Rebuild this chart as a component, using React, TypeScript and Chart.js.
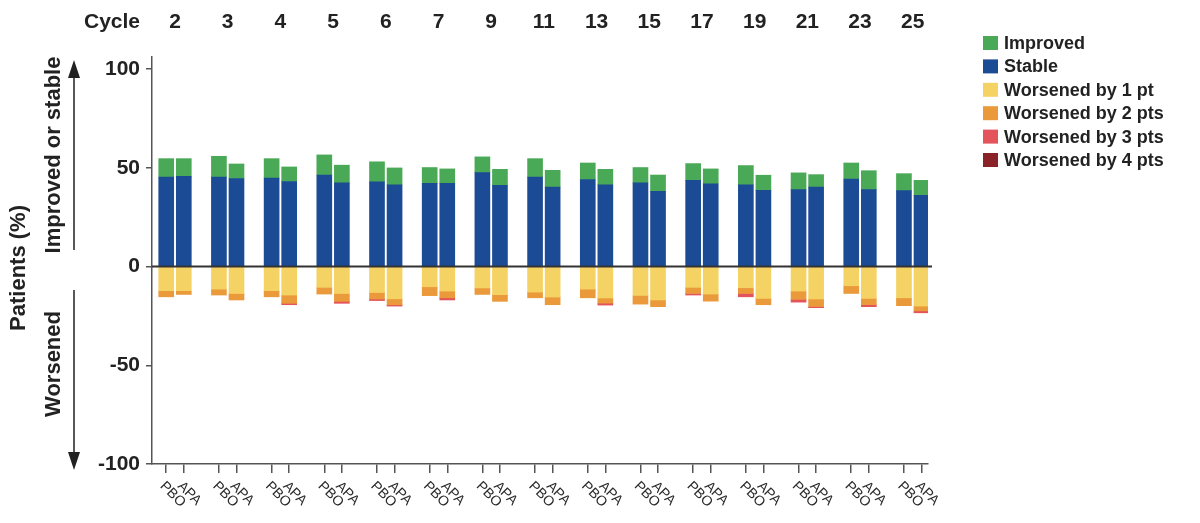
import React, { useEffect, useRef } from 'react';
import { Chart, registerables } from 'chart.js';

Chart.register(...registerables);

const cycles = ['2', '3', '4', '5', '6', '7', '9', '11', '13', '15', '17', '19', '21', '23', '25'];
const arms = ['PBO', 'APA'];
const yTicks = [-100, -50, 0, 50, 100];

// values per bar, order: cycle 2 PBO, cycle 2 APA, cycle 3 PBO, ...
const stable = [45.4, 45.8, 45.4, 44.6, 44.9, 43.1, 46.4, 42.4, 42.9, 41.5, 42.2, 42.2, 47.6, 41.2, 45.4, 40.3, 44.1, 41.4, 42.4, 38.1, 43.7, 42.0, 41.4, 38.6, 39.0, 40.3, 44.4, 39.0, 38.5, 36.1];
const improved = [9.3, 8.9, 10.5, 7.4, 9.8, 7.4, 10.2, 9.0, 10.2, 8.5, 8.0, 7.3, 8.0, 8.1, 9.3, 8.5, 8.4, 7.9, 7.8, 8.3, 8.5, 7.5, 9.8, 7.7, 8.5, 6.3, 8.1, 9.6, 8.6, 7.6];
const worse1 = [12.2, 12.2, 11.4, 13.6, 12.2, 14.4, 10.5, 13.6, 13.1, 16.3, 10.2, 12.4, 10.8, 14.2, 12.9, 15.4, 11.4, 15.9, 14.6, 16.9, 10.5, 13.9, 10.7, 16.1, 12.4, 16.4, 9.7, 16.1, 15.8, 20.0];
const worse2 = [3.1, 1.9, 3.0, 3.3, 3.1, 4.2, 3.4, 4.0, 3.3, 3.0, 4.5, 3.4, 3.3, 3.4, 2.9, 3.9, 4.4, 2.6, 4.4, 3.4, 3.1, 3.6, 2.9, 3.2, 4.2, 3.8, 3.9, 3.2, 4.0, 2.4];
const worse3 = [0, 0, 0, 0, 0, 0.7, 0, 1.0, 0.8, 0.7, 0, 1.1, 0, 0, 0, 0, 0, 1.0, 0, 0, 0.8, 0, 1.7, 0, 1.4, 0.6, 0, 1.0, 0, 1.0];
const worse4 = [0, 0, 0, 0, 0, 0, 0, 0, 0, 0, 0, 0, 0, 0, 0, 0, 0, 0, 0, 0, 0, 0, 0, 0, 0, 0, 0, 0, 0, 0];

const seriesNames = ['Improved', 'Stable', 'Worsened by 1 pt', 'Worsened by 2 pts', 'Worsened by 3 pts', 'Worsened by 4 pts'];
const seriesColors = ['#49a956', '#1c4b96', '#f5d264', '#ea9a3a', '#e3545b', '#8b2228'];

const FONT = "'Liberation Sans', Arial, Helvetica, sans-serif";

// bar position on the x scale: 3 slots per cycle (PBO, APA, gap)
const xPos = (barIndex: number) => Math.floor(barIndex / 2) * 3 + (barIndex % 2);

const toPoints = (vals: number[], sign: number) =>
  vals.map((v, i) => ({ x: xPos(i), y: v === 0 ? null : sign * v }));

const overlay = {
  id: 'overlay',
  afterDatasetsDraw(chart: any) {
    const { ctx, chartArea, scales } = chart;
    const ys = scales.y;
    const y0 = ys.getPixelForValue(0);
    ctx.save();
    ctx.strokeStyle = '#333';
    ctx.lineWidth = 2;
    ctx.beginPath();
    ctx.moveTo(chartArea.left, y0);
    ctx.lineTo(chartArea.right + 4, y0);
    ctx.stroke();
    ctx.restore();
  },
  afterDraw(chart: any) {
    const { ctx, chartArea, scales } = chart;
    const xs = scales.x;
    ctx.save();
    ctx.fillStyle = '#222';
    // header
    ctx.font = `bold 21px ${FONT}`;
    ctx.textBaseline = 'middle';
    ctx.textAlign = 'right';
    ctx.fillText('Cycle', 140, 22);
    ctx.textAlign = 'center';
    cycles.forEach((c, i) => {
      const px = (xs.getPixelForValue(i * 3) + xs.getPixelForValue(i * 3 + 1)) / 2;
      ctx.fillText(c, px, 22);
    });
    // x labels rotated
    ctx.font = `14px ${FONT}`;
    ctx.textAlign = 'left';
    ctx.fillStyle = '#2a2a2a';
    for (let i = 0; i < cycles.length * 2; i++) {
      const px = xs.getPixelForValue(xPos(i));
      ctx.save();
      ctx.translate(px - 4, chartArea.bottom + 20);
      ctx.rotate(Math.PI / 4);
      ctx.fillText(arms[i % 2], 0, 0);
      ctx.restore();
    }
    // y titles
    ctx.fillStyle = '#222';
    ctx.font = `bold 22px ${FONT}`;
    ctx.textAlign = 'center';
    const rot = (t: string, x: number, y: number) => {
      ctx.save();
      ctx.translate(x, y);
      ctx.rotate(-Math.PI / 2);
      ctx.fillText(t, 0, 0);
      ctx.restore();
    };
    rot('Patients (%)', 19, 268);
    rot('Improved or stable', 54, 155);
    rot('Worsened', 54, 364);
    // arrows
    ctx.strokeStyle = '#222';
    ctx.lineWidth = 1.5;
    const ax = 74;
    ctx.beginPath();
    ctx.moveTo(ax, 250);
    ctx.lineTo(ax, 76);
    ctx.moveTo(ax, 290);
    ctx.lineTo(ax, 455);
    ctx.stroke();
    ctx.beginPath();
    ctx.moveTo(ax, 60);
    ctx.lineTo(ax - 6, 78);
    ctx.lineTo(ax + 6, 78);
    ctx.closePath();
    ctx.fill();
    ctx.beginPath();
    ctx.moveTo(ax, 470);
    ctx.lineTo(ax - 6, 452);
    ctx.lineTo(ax + 6, 452);
    ctx.closePath();
    ctx.fill();
    // legend
    ctx.font = `bold 18px ${FONT}`;
    ctx.textAlign = 'left';
    ctx.textBaseline = 'middle';
    seriesNames.forEach((n, i) => {
      const cy = 43 + i * 23.4;
      ctx.fillStyle = seriesColors[i];
      ctx.fillRect(983, cy - 7, 15, 14);
      ctx.fillStyle = '#222';
      ctx.fillText(n, 1004, cy + 1);
    });
    ctx.restore();
  },
};

export default function App() {
  const ref = useRef<HTMLCanvasElement | null>(null);
  useEffect(() => {
    if (!ref.current) return;
    const mk = (label: string, data: any[], color: string) => ({
      label,
      data,
      backgroundColor: color,
      borderWidth: 0,
      barThickness: 15,
    });
    const chart = new Chart(ref.current, {
      type: 'bar',
      data: {
        datasets: [
          mk('Stable', toPoints(stable, 1), seriesColors[1]),
          mk('Improved', toPoints(improved, 1), seriesColors[0]),
          mk('Worsened by 1 pt', toPoints(worse1, -1), seriesColors[2]),
          mk('Worsened by 2 pts', toPoints(worse2, -1), seriesColors[3]),
          mk('Worsened by 3 pts', toPoints(worse3, -1), seriesColors[4]),
          mk('Worsened by 4 pts', toPoints(worse4, -1), seriesColors[5]),
        ],
      },
      options: {
        animation: false,
        responsive: false,
        devicePixelRatio: 1,
        layout: { padding: { left: 0, top: 57, right: 272, bottom: 0 } },
        plugins: { legend: { display: false }, tooltip: { enabled: false } },
        scales: {
          x: {
            type: 'linear',
            stacked: true,
            offset: false,
            min: -0.81,
            max: 43.37,
            afterBuildTicks: (s: any) => {
              s.ticks = stable.map((_, i) => ({ value: xPos(i) }));
            },
            afterFit: (s: any) => {
              s.height = 59;
            },
            ticks: { display: false },
            grid: { drawOnChartArea: false, drawTicks: true, tickLength: 9, color: '#555', lineWidth: 1.5, offset: false },
            border: { display: true, color: '#555', width: 1.5 },
          },
          y: {
            stacked: true,
            min: -100,
            max: 106.2,
            afterBuildTicks: (s: any) => {
              s.ticks = yTicks.map((v) => ({ value: v }));
            },
            afterFit: (s: any) => {
              s.width = 152;
            },
            ticks: {
              padding: 6,
              color: '#222',
              font: { family: FONT, size: 21, weight: 'bold' },
              callback: (v: any) => String(v),
            },
            grid: { drawOnChartArea: false, drawTicks: true, tickLength: 6, color: '#555', lineWidth: 1.5 },
            border: { display: true, color: '#555', width: 1.5 },
          },
        },
      },
      plugins: [overlay],
    } as any);
    return () => chart.destroy();
  }, []);
  return (
    <div style={{ position: 'absolute', left: 0, top: 0, width: 1200, height: 523, background: '#fff' }}>
      <canvas ref={ref} width={1200} height={523} style={{ width: 1200, height: 523, display: 'block' }} />
    </div>
  );
}
